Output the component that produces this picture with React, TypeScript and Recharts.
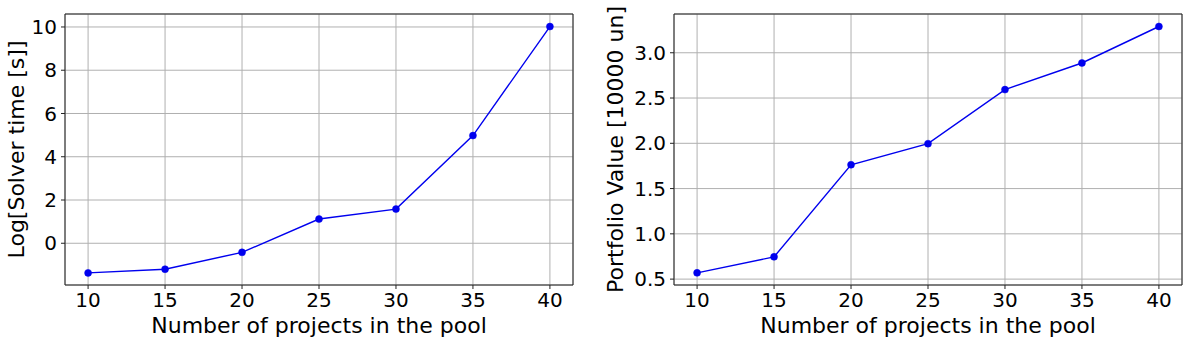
import React from 'react';
import { LineChart, Line, XAxis, YAxis, CartesianGrid, ReferenceArea } from 'recharts';

const projects = [10, 15, 20, 25, 30, 35, 40];
const solverLog = [-1.37, -1.2, -0.42, 1.12, 1.58, 4.98, 10.02];
const portfolio = [0.569, 0.746, 1.763, 1.996, 2.593, 2.887, 3.29];

const xTicks = [10, 15, 20, 25, 30, 35, 40];
const solverTicks = [0, 2, 4, 6, 8, 10];
const portfolioTicks = [0.5, 1.0, 1.5, 2.0, 2.5, 3.0];

const X_DOMAIN: [number, number] = [8.5, 41.5];
const SOLVER_DOMAIN: [number, number] = [-1.93, 10.6];
const PORTFOLIO_DOMAIN: [number, number] = [0.435, 3.428];

const FONT = '"DejaVu Sans", sans-serif';
const INK = '#222';
const BLUE = '#0000ee';

interface PanelProps {
  values: number[];
  yTicks: number[];
  yDomain: [number, number];
  yLabel: string;
  yFormat: (v: number) => string;
  marginLeft: number;
  marginRight: number;
  yLabelX: number;
}

function Panel({ values, yTicks, yDomain, yLabel, yFormat, marginLeft, marginRight, yLabelX }: PanelProps) {
  const data = projects.map((x, i) => ({ x, y: values[i] }));
  return (
    <LineChart
      width={594}
      height={347}
      data={data}
      margin={{ top: 14, right: marginRight, bottom: 32, left: marginLeft }}
    >
      <CartesianGrid stroke="#b0b0b0" strokeWidth={1} />
      <XAxis
        type="number"
        dataKey="x"
        domain={X_DOMAIN}
        ticks={xTicks}
        allowDataOverflow
        height={30}
        axisLine={false}
        tickLine={{ stroke: INK }}
        tickSize={4}
        tickMargin={4}
        tick={{ fill: '#000', fontSize: 20, fontFamily: FONT }}
        label={({ viewBox }: any) => (
          <text
            x={viewBox.x + viewBox.width / 2}
            y={333}
            textAnchor="middle"
            fontSize={22}
            fontFamily={FONT}
            fill="#000"
          >
            Number of projects in the pool
          </text>
        )}
      />
      <YAxis
        type="number"
        domain={yDomain}
        ticks={yTicks}
        allowDataOverflow
        width={45}
        axisLine={false}
        tickLine={{ stroke: INK }}
        tickSize={4}
        tickMargin={4}
        tickFormatter={yFormat}
        tick={{ fill: '#000', fontSize: 20, fontFamily: FONT }}
        label={({ viewBox }: any) => {
          const cy = viewBox.y + viewBox.height / 2;
          return (
            <text
              x={yLabelX}
              y={cy}
              transform={`rotate(-90, ${yLabelX}, ${cy})`}
              textAnchor="middle"
              fontSize={22}
              fontFamily={FONT}
              fill="#000"
            >
              {yLabel}
            </text>
          );
        }}
      />
      <ReferenceArea
        x1={X_DOMAIN[0]}
        x2={X_DOMAIN[1]}
        y1={yDomain[0]}
        y2={yDomain[1]}
        fill="none"
        stroke={INK}
        strokeWidth={1}
        ifOverflow="visible"
      />
      <Line
        type="linear"
        dataKey="y"
        stroke={BLUE}
        strokeWidth={1.4}
        dot={{ r: 3.5, fill: BLUE, stroke: BLUE, strokeWidth: 0.5 }}
        activeDot={false}
        isAnimationActive={false}
      />
    </LineChart>
  );
}

export default function App() {
  return (
    <div style={{ position: 'absolute', left: 0, top: 0, width: 1188, height: 347, display: 'flex', background: '#fff' }}>
      <Panel
        values={solverLog}
        yTicks={solverTicks}
        yDomain={SOLVER_DOMAIN}
        yLabel="Log[Solver time [s]]"
        yFormat={(v) => String(v)}
        marginLeft={20}
        marginRight={21}
        yLabelX={24}
      />
      <Panel
        values={portfolio}
        yTicks={portfolioTicks}
        yDomain={PORTFOLIO_DOMAIN}
        yLabel="Portfolio Value [10000 un]"
        yFormat={(v) => v.toFixed(1)}
        marginLeft={35}
        marginRight={6}
        yLabelX={29}
      />
    </div>
  );
}
